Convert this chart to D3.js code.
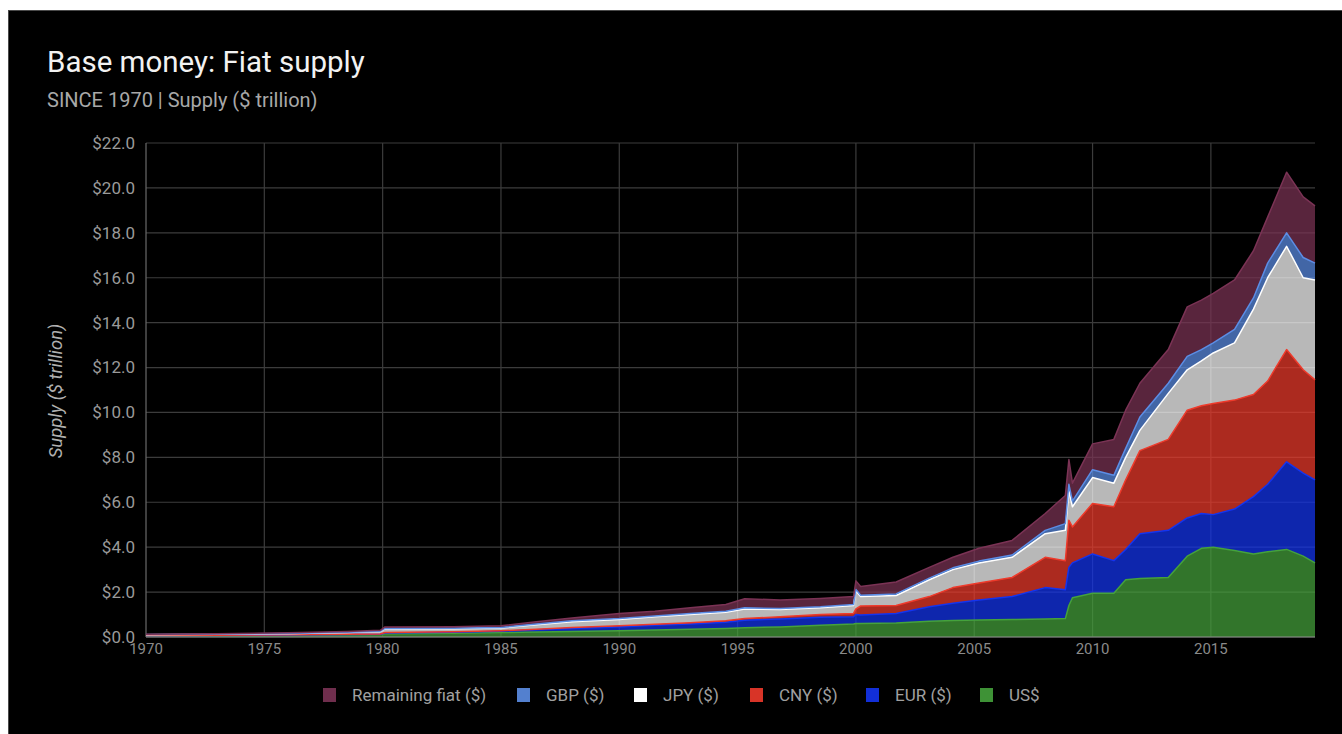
<!DOCTYPE html>
<html>
<head>
<meta charset="utf-8">
<script src="https://cdn.jsdelivr.net/npm/d3@7"></script>
<style>
  html, body { margin: 0; padding: 0; background: #fff; }
  svg { display: block; font-family: Roboto, "Noto Sans", sans-serif; }
</style>
</head>
<body>
<div id="chart"></div>
<script>
// decimal years of the sampled points
const years = [1970.0, 1973.0, 1976.0, 1978.5, 1979.9, 1980.1, 1983.0, 1985.0, 1986.5, 1988.0,
  1990.0, 1991.5, 1993.0, 1994.5, 1995.3, 1996.8, 1998.5, 1999.9, 2000.0, 2000.2,
  2001.7, 2003.1, 2004.1, 2005.2, 2006.6, 2008.0, 2008.85, 2009.0, 2009.15, 2010.0,
  2010.9, 2011.4, 2012.0, 2013.2, 2014.0, 2014.6, 2015.1, 2016.0, 2016.8, 2017.4,
  2018.2, 2018.9, 2019.4];

// $ trillion, one value per year above
const usd = [0.05, 0.06, 0.08, 0.10, 0.11, 0.14, 0.17, 0.20, 0.22, 0.25,
  0.28, 0.31, 0.34, 0.38, 0.41, 0.45, 0.52, 0.58, 0.60, 0.60,
  0.62, 0.70, 0.73, 0.76, 0.78, 0.80, 0.82, 1.40, 1.75, 1.95,
  1.95, 2.55, 2.60, 2.65, 3.60, 3.95, 4.00, 3.85, 3.70, 3.80,
  3.90, 3.60, 3.30];
const eur = [0.01, 0.01, 0.01, 0.01, 0.01, 0.04, 0.04, 0.06, 0.10, 0.13,
  0.17, 0.21, 0.24, 0.28, 0.34, 0.35, 0.36, 0.32, 0.40, 0.38,
  0.43, 0.65, 0.77, 0.89, 1.02, 1.40, 1.28, 1.70, 1.55, 1.75,
  1.45, 1.35, 2.00, 2.10, 1.70, 1.55, 1.45, 1.85, 2.55, 3.00,
  3.90, 3.70, 3.70];
const cny = [0.01, 0.01, 0.01, 0.01, 0.01, 0.02, 0.02, 0.02, 0.03, 0.04,
  0.05, 0.05, 0.06, 0.06, 0.07, 0.10, 0.12, 0.15, 0.25, 0.40,
  0.35, 0.45, 0.70, 0.75, 0.85, 1.35, 1.30, 2.10, 1.60, 2.25,
  2.40, 3.10, 3.70, 4.05, 4.80, 4.80, 4.95, 4.85, 4.55, 4.60,
  5.00, 4.60, 4.45];
const jpy = [0.03, 0.04, 0.05, 0.08, 0.12, 0.16, 0.14, 0.12, 0.20, 0.26,
  0.28, 0.33, 0.36, 0.38, 0.43, 0.32, 0.30, 0.35, 0.80, 0.42,
  0.45, 0.75, 0.80, 0.90, 0.90, 1.05, 1.35, 1.30, 0.90, 1.15,
  1.05, 1.00, 0.90, 2.05, 1.80, 2.00, 2.25, 2.55, 3.80, 4.60,
  4.60, 4.10, 4.45];
const gbp = [0.01, 0.01, 0.01, 0.01, 0.01, 0.02, 0.02, 0.02, 0.03, 0.04,
  0.04, 0.04, 0.05, 0.05, 0.05, 0.05, 0.05, 0.05, 0.07, 0.06,
  0.07, 0.07, 0.08, 0.08, 0.10, 0.15, 0.30, 0.30, 0.25, 0.35,
  0.35, 0.40, 0.60, 0.45, 0.60, 0.50, 0.45, 0.60, 0.50, 0.65,
  0.60, 0.90, 0.75];
const remaining = [0.01, 0.02, 0.03, 0.04, 0.04, 0.07, 0.07, 0.08, 0.10, 0.13,
  0.23, 0.21, 0.25, 0.30, 0.40, 0.38, 0.37, 0.35, 0.38, 0.39,
  0.53, 0.48, 0.47, 0.57, 0.65, 0.75, 1.25, 1.10, 0.80, 1.15,
  1.60, 1.70, 1.50, 1.50, 2.20, 2.20, 2.20, 2.20, 2.10, 2.05,
  2.70, 2.70, 2.55];

const xTicks = [1970, 1975, 1980, 1985, 1990, 1995, 2000, 2005, 2010, 2015];
const yTicks = [0, 2, 4, 6, 8, 10, 12, 14, 16, 18, 20, 22];

// stacking order bottom -> top
const keys = ["usd", "eur", "cny", "jpy", "gbp", "remaining"];
const labels = {usd: "US$", eur: "EUR ($)", cny: "CNY ($)", jpy: "JPY ($)", gbp: "GBP ($)", remaining: "Remaining fiat ($)"};
const colors = {usd: "#45a23c", eur: "#1434f0", cny: "#ef3a2b", jpy: "#ffffff", gbp: "#5c8ee6", remaining: "#7b3355"};
const legendOrder = ["remaining", "gbp", "jpy", "cny", "eur", "usd"];

const table = years.map((t, i) => ({
  t: t, usd: usd[i], eur: eur[i], cny: cny[i], jpy: jpy[i], gbp: gbp[i], remaining: remaining[i]
}));

const W = 1342, H = 734;
const svg = d3.select("#chart").append("svg").attr("width", W).attr("height", H);

// black card
svg.append("rect").attr("x", 8.5).attr("y", 10.5).attr("width", W).attr("height", H)
  .attr("fill", "#000").attr("stroke", "#4a4a4a");

svg.append("text").attr("x", 47).attr("y", 72)
  .attr("fill", "#f2f2f2").attr("font-size", 29.5).text("Base money: Fiat supply");
svg.append("text").attr("x", 47).attr("y", 107)
  .attr("fill", "#a8a8a8").attr("font-size", 20).text("SINCE 1970 | Supply ($ trillion)");

const x = d3.scaleLinear().domain([1970, 2019.4]).range([146, 1315]);
const y = d3.scaleLinear().domain([0, 22]).range([637, 143]);

// grid
const grid = svg.append("g");
grid.selectAll("line.h").data(yTicks).enter().append("line")
  .attr("x1", 146).attr("x2", 1315)
  .attr("y1", d => y(d)).attr("y2", d => y(d))
  .attr("stroke", "#3c3c3c").attr("stroke-width", 1.2);
grid.selectAll("line.v").data(xTicks).enter().append("line")
  .attr("x1", d => x(d)).attr("x2", d => x(d))
  .attr("y1", y(22)).attr("y2", y(0))
  .attr("stroke", d => d === 1970 ? "#6a6a6a" : "#3c3c3c").attr("stroke-width", 1.2);

// stacked areas
const series = d3.stack().keys(keys)(table);

const area = d3.area()
  .x(d => x(d.data.t))
  .y0(d => y(d[0]))
  .y1(d => y(d[1]));
const topLine = d3.line()
  .x(d => x(d.data.t))
  .y(d => y(d[1]));

svg.append("g").selectAll("path").data(series).enter().append("path")
  .attr("d", area)
  .attr("fill", d => colors[d.key])
  .attr("fill-opacity", 0.72);

svg.append("g").selectAll("path").data(series).enter().append("path")
  .attr("d", topLine)
  .attr("fill", "none")
  .attr("stroke", d => colors[d.key])
  .attr("stroke-width", 1.5)
  .attr("stroke-linejoin", "round");

// baseline
svg.append("line").attr("x1", 146).attr("x2", 1315).attr("y1", y(0)).attr("y2", y(0))
  .attr("stroke", "#8a8a8a").attr("stroke-width", 1.2);

// y axis labels
svg.append("g").selectAll("text").data(yTicks).enter().append("text")
  .attr("x", 135).attr("y", d => y(d)).attr("dy", "0.35em")
  .attr("text-anchor", "end").attr("fill", "#9a9a9a").attr("font-size", 17)
  .text(d => "$" + d.toFixed(1));

svg.append("text")
  .attr("transform", "translate(62,391) rotate(-90)")
  .attr("text-anchor", "middle").attr("fill", "#b0b0b0")
  .attr("font-size", 18.5).attr("font-style", "italic")
  .text("Supply ($ trillion)");

// x axis labels
svg.append("g").selectAll("text").data(xTicks).enter().append("text")
  .attr("x", d => x(d)).attr("y", 654)
  .attr("text-anchor", "middle").attr("fill", "#8a8a8a").attr("font-size", 15)
  .text(d => d);

// legend
const legendX = [323, 517, 634, 750, 866, 980];
const leg = svg.append("g").selectAll("g").data(legendOrder).enter().append("g")
  .attr("transform", (d, i) => "translate(" + legendX[i] + ",688)");
leg.append("rect").attr("width", 13).attr("height", 14)
  .attr("fill", d => colors[d]).attr("fill-opacity", d => d === "jpy" ? 1 : 0.9);
leg.append("text").attr("x", 29).attr("y", 7).attr("dy", "0.35em")
  .attr("fill", "#a0a0a0").attr("font-size", 17)
  .text(d => labels[d]);
</script>
</body>
</html>
